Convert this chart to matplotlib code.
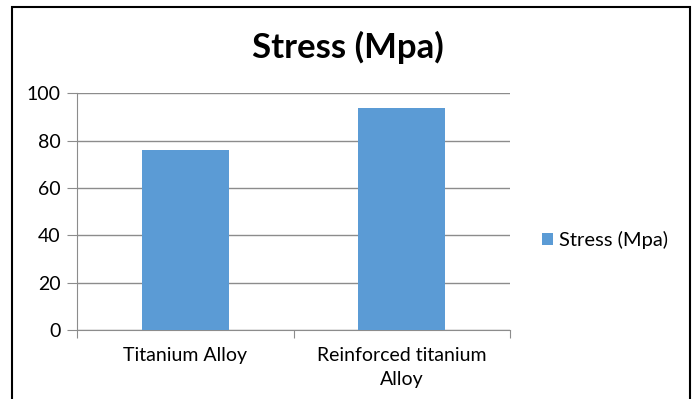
import matplotlib
matplotlib.use("Agg")
import matplotlib.pyplot as plt
from matplotlib.patches import Rectangle

# stress values per material
categories = ["Titanium Alloy", "Reinforced titanium\nAlloy"]
stress = [76, 94]
series_name = "Stress (Mpa)"
yticks = [0, 20, 40, 60, 80, 100]

plt.rcParams['font.family'] = ['Lato', 'DejaVu Sans']

fig = plt.figure(figsize=(6.94, 3.99), dpi=100)
ax = fig.add_axes([77/694, 1-330/399, (510-77)/694, (330-93.5)/399])

x = range(len(categories))
ax.bar(x, stress, width=0.4, color='#5B9BD5', label=series_name, zorder=3)

ax.set_xlim(-0.5, 1.5)
ax.set_ylim(0, 100)
ax.set_yticks(yticks)
ax.yaxis.grid(True, color='#8c8c8c', linewidth=1, zorder=0)
for s in ['top', 'right']:
    ax.spines[s].set_visible(False)
ax.spines['left'].set_color('#8c8c8c')
ax.spines['bottom'].set_color('#8c8c8c')
ax.tick_params(axis='y', length=7, color='#8c8c8c', labelsize=14, pad=5, labelcolor='black')

# category labels sit between boundary ticks
ax.set_xticks([-0.5, 0.5, 1.5])
ax.set_xticklabels([])
ax.tick_params(axis='x', length=6, color='#8c8c8c')
ax.set_xticks(list(x), minor=True)
ax.set_xticklabels(categories, minor=True, fontsize=14, linespacing=1.5)
ax.tick_params(axis='x', which='minor', length=0, pad=12)

fig.text(348/694, 1-47/399, series_name, ha='center', va='center',
         fontsize=25, fontweight='bold')

ax.legend(loc='center left', bbox_to_anchor=(524/694, 1-240/399),
          bbox_transform=fig.transFigure, frameon=False, fontsize=14.5,
          handlelength=0.55, handleheight=0.55, handletextpad=0.3)

# outer frame of the chart
fig.patches.append(Rectangle((12/694, -0.05), (690-12)/694, 1.05 - 7/399,
                             transform=fig.transFigure, fill=False,
                             edgecolor='black', linewidth=1.5))

fig.savefig('out.png', dpi=100)
